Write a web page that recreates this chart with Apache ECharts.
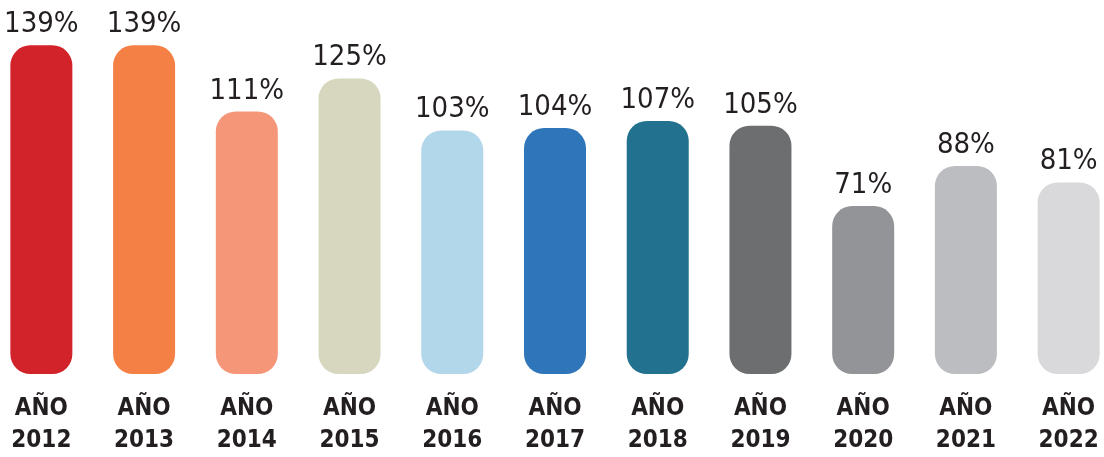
<!DOCTYPE html>
<html>
<head>
<meta charset="utf-8">
<script src="https://cdn.jsdelivr.net/npm/echarts@6/dist/echarts.min.js"></script>
<style>
  html, body { margin: 0; padding: 0; background: #fff; overflow: hidden; }
  /* slightly wider than the window so the outer bars sit like the reference */
  #chart { width: 1130px; height: 457px; margin-left: -10px; }
</style>
</head>
<body>
<div id="chart"></div>
<script>
const years = ['2012', '2013', '2014', '2015', '2016', '2017', '2018', '2019', '2020', '2021', '2022'];
const values = [139, 139, 111, 125, 103, 104, 107, 105, 71, 88, 81];
const barColors = [
  '#d2232a', '#f58045', '#f69679', '#d7d7bf', '#b3d7ea', '#2e75b9',
  '#21718f', '#6d6e70', '#929497', '#bbbdc0', '#d9d9db',
];

const condensed = "'Liberation Sans Narrow', 'DejaVu Sans Condensed', 'Roboto', sans-serif";
const textColor = '#231f20';

const chart = echarts.init(document.getElementById('chart'));

const option = {
  backgroundColor: '#ffffff',
  animation: false,
  grid: {
    left: 0,
    right: 0,
    top: 24,
    bottom: 80,
  },
  xAxis: {
    type: 'category',
    data: years,
    axisLine: { show: false },
    axisTick: { show: false },
    axisLabel: {
      margin: 19,
      interval: 0,
      fontFamily: condensed,
      fontWeight: 'bold',
      fontSize: 24,
      lineHeight: 32,
      color: textColor,
      formatter: (v) => 'AÑO\n' + v,
    },
  },
  yAxis: {
    type: 'value',
    min: 0,
    max: 148,
    show: false,
  },
  series: [
    {
      type: 'bar',
      barWidth: 62,
      data: values.map((v, i) => ({
        value: v,
        itemStyle: { color: barColors[i] },
      })),
      itemStyle: { borderRadius: 20 },
      label: {
        show: true,
        position: 'top',
        distance: 6,
        fontFamily: condensed,
        fontSize: 29,
        color: textColor,
        formatter: (p) => p.value + '%',
      },
    },
  ],
};

chart.setOption(option);
</script>
</body>
</html>
